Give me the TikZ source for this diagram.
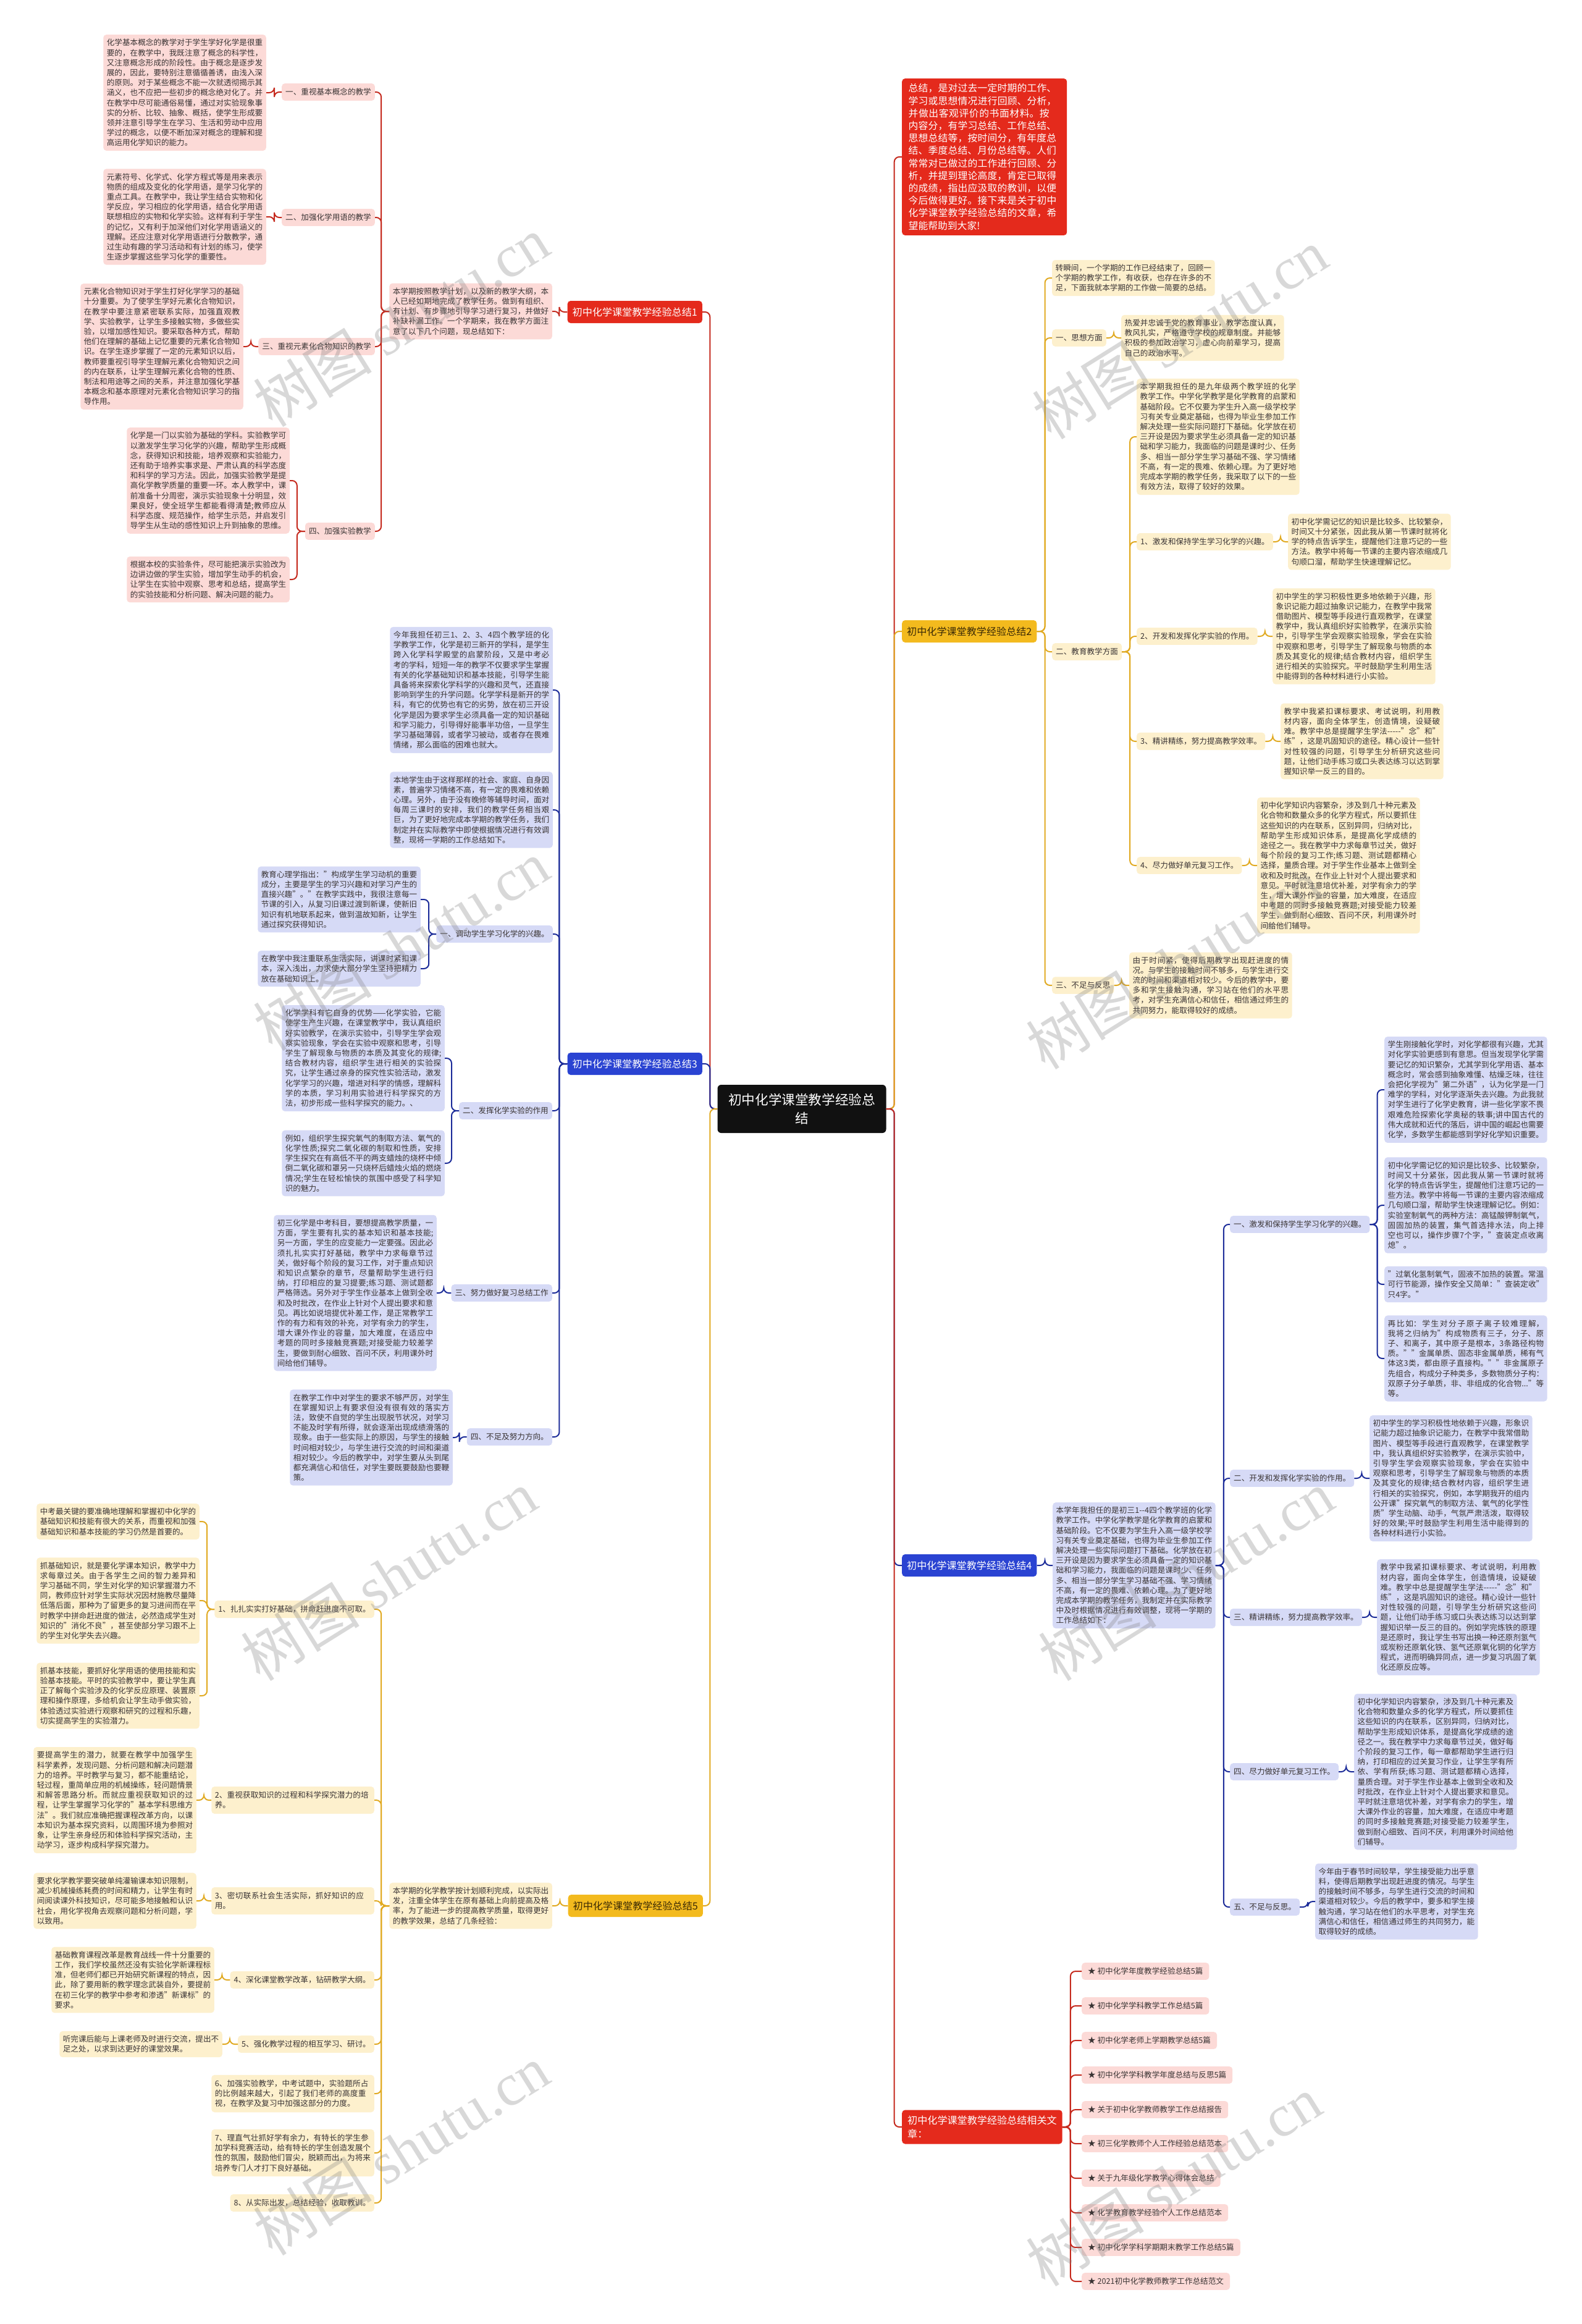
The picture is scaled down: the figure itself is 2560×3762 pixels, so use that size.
\documentclass[tikz,border=0pt]{standalone}
\usepackage{fontspec}
\setmainfont{Noto Sans CJK SC}
\newfontfamily\wmserif{Liberation Serif}
\XeTeXlinebreaklocale "zh"
\XeTeXlinebreakskip = 0pt plus 1pt

\definecolor{rootblack}{HTML}{111111}
\definecolor{titlered}{HTML}{E42A1C}
\definecolor{linered}{HTML}{C52A1E}
\definecolor{pinkfill}{HTML}{FCDAD7}
\definecolor{titleblue}{HTML}{2A43D2}
\definecolor{lineblue}{HTML}{1C2C99}
\definecolor{lavfill}{HTML}{D6DAF6}
\definecolor{titlegold}{HTML}{F3BA1E}
\definecolor{linegold}{HTML}{E1AA22}
\definecolor{creamfill}{HTML}{FDF0CD}
\definecolor{boxink}{HTML}{3A3434}
\definecolor{goldink}{HTML}{3B2A05}

\newcommand{\bodyfont}{\fontsize{12.6}{16.2}\selectfont}
\newcommand{\titlefont}{\fontsize{16.1}{22}\selectfont}
\newcommand{\introfont}{\fontsize{15.8}{20.2}\selectfont}
\newcommand{\rootfont}{\fontsize{21.6}{30}\selectfont}

\tikzset{
  rootnode/.style={fill=rootblack, text=white, rounded corners=6pt, font=\rootfont,
    align=center, minimum width=273pt, minimum height=78pt, inner sep=0pt},
  anytitle/.style={rounded corners=5pt, font=\titlefont, inner xsep=8pt, minimum height=36pt},
  redtitle/.style={anytitle, fill=titlered, text=white},
  bluetitle/.style={anytitle, fill=titleblue, text=white},
  goldtitle/.style={anytitle, fill=titlegold, text=goldink},
  anybox/.style={rounded corners=5pt, font=\bodyfont, text=boxink, text width=252.5pt,
    align=justify, inner xsep=5.5pt, inner ysep=7pt},
  anylabel/.style={rounded corners=5pt, font=\bodyfont, text=boxink, inner xsep=6pt, inner ysep=8pt},
  pinkbox/.style={anybox, fill=pinkfill},
  pinklabel/.style={anylabel, fill=pinkfill},
  lavbox/.style={anybox, fill=lavfill},
  lavlabel/.style={anylabel, fill=lavfill},
  creambox/.style={anybox, fill=creamfill},
  creamlabel/.style={anylabel, fill=creamfill},
  longlabel/.style={text width=252.5pt, align=left, inner xsep=5.5pt},
  leafnote/.style={anylabel, fill=pinkfill, inner xsep=10pt},
  anyline/.style={line width=2pt, rounded corners=8pt},
  redline/.style={anyline, draw=linered},
  blueline/.style={anyline, draw=lineblue},
  goldline/.style={anyline, draw=linegold},
  watermark/.style={text=gray, opacity=0.3, font=\fontsize{96}{96}\selectfont, rotate=32}
}

\begin{document}
\begin{tikzpicture}[x=1pt,y=-1pt]
  \fill[white] (0,0) rectangle (2560,3762);
  \useasboundingbox (0,0) rectangle (2560,3762);

  % centre
  \node[rootnode] (root) at (1298,1795) {初中化学课堂教学经验总\\结};

  % branch 1, left top
  \node[redtitle, anchor=east] (t1) at (1137,505) {初中化学课堂教学经验总结1};
  \node[pinkbox, anchor=east] (i1) at (894,504) {本学期按照教学计划，以及新的教学大纲，本人已经如期地完成了教学任务。做到有组织、有计划、有步骤地引导学习进行复习，并做好补缺补漏工作。一个学期来，我在教学方面注意了以下几个问题，现总结如下：};
  \node[pinklabel, anchor=east] (l11) at (607,149) {一、重视基本概念的教学};
  \node[pinklabel, anchor=east] (l12) at (607,352) {二、加强化学用语的教学};
  \node[pinklabel, anchor=east] (l13) at (607,561) {三、重视元素化合物知识的教学};
  \node[pinklabel, anchor=east] (l14) at (607,860) {四、加强实验教学};
  \node[pinkbox, anchor=east] (b11) at (431,150) {化学基本概念的教学对于学生学好化学是很重要的，在教学中，我既注意了概念的科学性，又注意概念形成的阶段性。由于概念是逐步发展的，因此，要特别注意循循善诱，由浅入深的原则。对于某些概念不能一次就透彻揭示其涵义，也不应把一些初步的概念绝对化了。并在教学中尽可能通俗易懂，通过对实验现象事实的分析、比较、抽象、概括，使学生形成要领并注意引导学生在学习、生活和劳动中应用学过的概念，以便不断加深对概念的理解和提高运用化学知识的能力。};
  \node[pinkbox, anchor=east] (b12) at (431,351) {元素符号、化学式、化学方程式等是用来表示物质的组成及变化的化学用语，是学习化学的重点工具。在教学中，我让学生结合实物和化学反应，学习相应的化学用语，结合化学用语联想相应的实物和化学实验。这样有利于学生的记忆，又有利于加深他们对化学用语涵义的理解。还应注意对化学用语进行分散教学，通过生动有趣的学习活动和有计划的练习，使学生逐步掌握这些学习化学的重要性。};
  \node[pinkbox, anchor=east] (b13) at (394,561) {元素化合物知识对于学生打好化学学习的基础十分重要。为了使学生学好元素化合物知识，在教学中要注意紧密联系实际，加强直观教学、实验教学，让学生多接触实物，多做些实验，以增加感性知识。要采取各种方式，帮助他们在理解的基础上记忆重要的元素化合物知识。在学生逐步掌握了一定的元素知识以后，教师要重视引导学生理解元素化合物知识之间的内在联系，让学生理解元素化合物的性质、制法和用途等之间的关系，并注意加强化学基本概念和基本原理对元素化合物知识学习的指导作用。};
  \node[pinkbox, anchor=east] (b14a) at (469,778) {化学是一门以实验为基础的学科。实验教学可以激发学生学习化学的兴趣，帮助学生形成概念，获得知识和技能，培养观察和实验能力，还有助于培养实事求是、严肃认真的科学态度和科学的学习方法。因此，加强实验教学是提高化学教学质量的重要一环。本人教学中，课前准备十分周密，演示实验现象十分明显，效果良好，使全班学生都能看得清楚;教师应从科学态度、规范操作，给学生示范，并启发引导学生从生动的感性知识上升到抽象的思维。};
  \node[pinkbox, anchor=east] (b14b) at (469,938) {根据本校的实验条件，尽可能把演示实验改为边讲边做的学生实验，增加学生动手的机会，让学生在实验中观察、思考和总结，提高学生的实验技能和分析问题、解决问题的能力。};

  % branch 3, left middle
  \node[bluetitle, anchor=east] (t3) at (1137,1722) {初中化学课堂教学经验总结3};
  \node[lavbox, anchor=east] (i3a) at (895,1117) {今年我担任初三1、2、3、4四个教学班的化学教学工作，化学是初三新开的学科，是学生跨入化学科学殿堂的启蒙阶段，又是中考必考的学科，短短一年的教学不仅要求学生掌握有关的化学基础知识和基本技能，引导学生能具备将来探索化学科学的兴趣和灵气，还直接影响到学生的升学问题。化学学科是新开的学科，有它的优势也有它的劣势，放在初三开设化学是因为要求学生必须具备一定的知识基础和学习能力，引导得好能事半功倍，一旦学生学习基础薄弱，或者学习被动，或者存在畏难情绪，那么面临的困难也就大。};
  \node[lavbox, anchor=east] (i3b) at (895,1311) {本地学生由于这样那样的社会、家庭、自身因素，普遍学习情绪不高，有一定的畏难和依赖心理。另外，由于没有晚修等辅导时间，面对每周三课时的安排，我们的教学任务相当艰巨，为了更好地完成本学期的教学任务，我们制定并在实际教学中即使根据情况进行有效调整，现将一学期的工作总结如下。};
  \node[lavlabel, anchor=east] (l31) at (895,1512) {一、调动学生学习化学的兴趣。};
  \node[lavlabel, anchor=east] (l32) at (894,1798) {二、发挥化学实验的作用};
  \node[lavlabel, anchor=east] (l33) at (894,2093) {三、努力做好复习总结工作};
  \node[lavlabel, anchor=east] (l34) at (894,2326) {四、不足及努力方向。};
  \node[lavbox, anchor=east] (b31a) at (681,1456) {教育心理学指出："构成学生学习动机的重要成分，主要是学生的学习兴趣和对学习产生的直接兴趣"。"在教学实践中，我很注意每一节课的引入，从复习旧课过渡到新课，使新旧知识有机地联系起来，做到温故知新，让学生通过探究获得知识。};
  \node[lavbox, anchor=east] (b31b) at (681,1568) {在教学中我注重联系生活实际，讲课时紧扣课本，深入浅出，力求使大部分学生坚持把精力放在基础知识上。};
  \node[lavbox, anchor=east] (b32a) at (720,1713) {化学学科有它自身的优势——化学实验，它能使学生产生兴趣，在课堂教学中，我认真组织好实验教学，在演示实验中，引导学生学会观察实验现象，学会在实验中观察和思考，引导学生了解现象与物质的本质及其变化的规律;结合教材内容，组织学生进行相关的实验探究，让学生通过亲身的探究性实验活动，激发化学学习的兴趣，增进对科学的情感，理解科学的本质，学习利用实验进行科学探究的方法，初步形成一些科学探究的能力。、};
  \node[lavbox, anchor=east] (b32b) at (720,1883) {例如，组织学生探究氧气的制取方法、氧气的化学性质;探究二氧化碳的制取和性质，安排学生探究在有高低不平的两支蜡烛的烧杯中倾倒二氧化碳和罩另一只烧杯后蜡烛火焰的燃烧情况;学生在轻松愉快的氛围中感受了科学知识的魅力。};
  \node[lavbox, anchor=east] (b33) at (707,2093) {初三化学是中考科目，要想提高教学质量，一方面，学生要有扎实的基本知识和基本技能;另一方面，学生的应变能力一定要强。因此必须扎扎实实打好基础，教学中力求每章节过关，做好每个阶段的复习工作，对于重点知识和知识点繁杂的章节，尽量帮助学生进行归纳，打印相应的复习提要;练习题、测试题都严格筛选。另外对于学生作业基本上做到全收和及时批改，在作业上针对个人提出要求和意见。再比如说培提优补差工作，是正常教学工作的有力和有效的补充，对学有余力的学生，增大课外作业的容量，加大难度，在适应中考题的同时多接触竞赛题;对接受能力较差学生，要做到耐心细致、百问不厌，利用课外时间给他们辅导。};
  \node[lavbox, anchor=east] (b34) at (733,2327) {在教学工作中对学生的要求不够严厉，对学生在掌握知识上有要求但没有很有效的落实方法，致使不自觉的学生出现脱节状况，对学习不能及时学有所得，就会逐渐出现成绩滑落的现象。由于一些实际上的原因，与学生的接触时间相对较少，与学生进行交流的时间和渠道相对较少。今后的教学中，对学生要从头到尾都充满信心和信任，对学生要既要鼓励也要鞭策。};

  % branch 5, left bottom
  \node[goldtitle, anchor=east] (t5) at (1138,3085) {初中化学课堂教学经验总结5};
  \node[creambox, anchor=east] (i5) at (894,3085) {本学期的化学教学按计划顺利完成，以实际出发，注重全体学生在原有基础上向前提高及格率，为了能进一步的提高教学质量，取得更好的教学效果，总结了几条经验：};
  \node[creamlabel, anchor=east] (l51) at (606,2605) {1、扎扎实实打好基础，拼命赶进度不可取。};
  \node[creamlabel, longlabel, anchor=east] (l52) at (606,2914) {2、重视获取知识的过程和科学探究潜力的培养。};
  \node[creamlabel, longlabel, anchor=east] (l53) at (606,3077) {3、密切联系社会生活实际，抓好知识的应用。};
  \node[creamlabel, anchor=east] (l54) at (606,3205) {4、深化课堂教学改革，钻研教学大纲。};
  \node[creamlabel, anchor=east] (l55) at (606,3309) {5、强化教学过程的相互学习、研讨。};
  \node[creamlabel, longlabel, anchor=east] (l56) at (606,3389) {6、加强实验教学，中考试题中，实验题所占的比例越来越大，引起了我们老师的高度重视，在教学及复习中加强这部分的力度。};
  \node[creamlabel, longlabel, anchor=east] (l57) at (606,3485) {7、理直气壮抓好学有余力，有特长的学生参加学科竞赛活动，给有特长的学生创造发展个性的氛围，鼓励他们冒尖，脱颖而出，为将来培养专门人才打下良好基础。};
  \node[creamlabel, anchor=east] (l58) at (606,3566) {8、从实际出发，总结经验，收取教训。};
  \node[creambox, anchor=east] (b51a) at (323,2463) {中考最关键的要准确地理解和掌握初中化学的基础知识和技能有很大的关系，而重视和加强基础知识和基本技能的学习仍然是首要的。};
  \node[creambox, anchor=east] (b51b) at (323,2591) {抓基础知识，就是要化学课本知识，教学中力求每章过关。由于各学生之间的智力差异和学习基础不同，学生对化学的知识掌握潜力不同，教师应针对学生实际状况因材施教尽量降低落后面，那种为了留更多的复习进间而在平时教学中拼命赶进度的做法，必然造成学生对知识的"消化不良"，甚至使部分学习跟不上的学生对化学失去兴趣。};
  \node[creambox, anchor=east] (b51c) at (323,2745) {抓基本技能，要抓好化学用语的使用技能和实验基本技能。平时的实验教学中，要让学生真正了解每个实验涉及的化学反应原理、装置原理和操作原理，多给机会让学生动手做实验，体验透过实验进行观察和研究的过程和乐趣，切实提高学生的实验潜力。};
  \node[creambox, anchor=east] (b52) at (318,2914) {要提高学生的潜力，就要在教学中加强学生科学素养，发现问题、分析问题和解决问题潜力的培养。平时教学与复习，都不能重结论，轻过程，重简单应用的机械操练，轻问题情景和解答思路分析。而就应重视获取知识的过程，让学生掌握学习化学的"基本学科思维方法"。我们就应准确把握课程改革方向，以课本知识为基本探究资料，以周围环境为参照对象，让学生亲身经历和体验科学探究活动，主动学习，逐步构成科学探究潜力。};
  \node[creambox, anchor=east] (b53) at (318,3077) {要求化学教学要突破单纯灌输课本知识限制，减少机械操练耗费的时间和精力，让学生有时间阅读课外科技知识，尽可能多地接触和认识社会，用化学视角去观察问题和分析问题，学以致用。};
  \node[creambox, anchor=east] (b54) at (347,3205) {基础教育课程改革是教育战线一件十分重要的工作，我们学校虽然还没有实验化学新课程标准，但老师们都已开始研究新课程的特点，因此，除了要用新的教学理念武装自外，要提前在初三化学的教学中参考和渗透"新课标"的要求。};
  \node[creambox, anchor=east] (b55) at (360,3309) {听完课后能与上课老师及时进行交流，提出不足之处，以求到达更好的课堂效果。};

  % intro, right top
  \node[fill=titlered, text=white, rounded corners=5pt, font=\introfont, text width=246pt,
    align=left, inner xsep=10.5pt, inner ysep=8.5pt, anchor=west] (ir) at (1460,254) {总结，是对过去一定时期的工作、学习或思想情况进行回顾、分析，并做出客观评价的书面材料。按内容分，有学习总结、工作总结、思想总结等，按时间分，有年度总结、季度总结、月份总结等。人们常常对已做过的工作进行回顾、分析，并提到理论高度，肯定已取得的成绩，指出应汲取的教训，以便今后做得更好。接下来是关于初中化学课堂教学经验总结的文章，希望能帮助到大家!};

  % branch 2, right top
  \node[goldtitle, anchor=west] (t2) at (1460,1022) {初中化学课堂教学经验总结2};
  \node[creambox, anchor=west] (i2) at (1703,450) {转瞬间，一个学期的工作已经结束了，回顾一个学期的教学工作，有收获，也存在许多的不足，下面我就本学期的工作做一简要的总结。};
  \node[creamlabel, anchor=west] (l21) at (1703,547) {一、思想方面};
  \node[creambox, anchor=west] (b21) at (1815,547) {热爱并忠诚于党的教育事业，教学态度认真，教风扎实，严格遵守学校的规章制度。并能够积极的参加政治学习，虚心向前辈学习，提高自己的政治水平。};
  \node[creamlabel, anchor=west] (l22) at (1703,1055) {二、教育教学方面};
  \node[creambox, anchor=west] (b22i) at (1840,707) {本学期我担任的是九年级两个教学班的化学教学工作。中学化学教学是化学教育的启蒙和基础阶段。它不仅要为学生升入高一级学校学习有关专业奠定基础，也得为毕业生参加工作解决处理一些实际问题打下基础。化学放在初三开设是因为要求学生必须具备一定的知识基础和学习能力，我面临的问题是课时少、任务多、相当一部分学生学习基础不强、学习情绪不高，有一定的畏难、依赖心理。为了更好地完成本学期的教学任务，我采取了以下的一些有效方法，取得了较好的效果。};
  \node[creamlabel, anchor=west] (l221) at (1840,877) {1、激发和保持学生学习化学的兴趣。};
  \node[creambox, anchor=west] (b221) at (2085,877) {初中化学需记忆的知识是比较多、比较繁杂，时间又十分紧张，因此我从第一节课时就将化学的特点告诉学生，提醒他们注意巧记的一些方法。教学中将每一节课的主要内容浓缩成几句顺口溜，帮助学生快速理解记忆。};
  \node[creamlabel, anchor=west] (l222) at (1840,1030) {2、开发和发挥化学实验的作用。};
  \node[creambox, anchor=west] (b222) at (2060,1030) {初中学生的学习积极性更多地依赖于兴趣，形象识记能力超过抽象识记能力，在教学中我常借助图片、模型等手段进行直观教学，在课堂教学中，我认真组织好实验教学，在演示实验中，引导学生学会观察实验现象，学会在实验中观察和思考，引导学生了解现象与物质的本质及其变化的规律;结合教材内容，组织学生进行相关的实验探究。平时鼓励学生利用生活中能得到的各种材料进行小实验。};
  \node[creamlabel, anchor=west] (l223) at (1840,1200) {3、精讲精练，努力提高教学效率。};
  \node[creambox, anchor=west] (b223) at (2073,1200) {教学中我紧扣课标要求、考试说明，利用教材内容，面向全体学生，创造情境，设疑破难。教学中总是提醒学生学法-{}-{}-{}-{}-"念"和"练"，这是巩固知识的途径。精心设计一些针对性较强的问题，引导学生分析研究这些问题，让他们动手练习或口头表达练习以达到掌握知识举一反三的目的。};
  \node[creamlabel, anchor=west] (l224) at (1840,1401) {4、尽力做好单元复习工作。};
  \node[creambox, anchor=west] (b224) at (2035,1401) {初中化学知识内容繁杂，涉及到几十种元素及化合物和数量众多的化学方程式，所以要抓住这些知识的内在联系，区别异同，归纳对比，帮助学生形成知识体系，是提高化学成绩的途径之一。我在教学中力求每章节过关，做好每个阶段的复习工作;练习题、测试题都精心选择，量质合理。对于学生作业基本上做到全收和及时批改，在作业上针对个人提出要求和意见。平时就注意培优补差，对学有余力的学生，增大课外作业的容量，加大难度，在适应中考题的同时多接触竞赛题;对接受能力较差学生，做到耐心细致、百问不厌，利用课外时间给他们辅导。};
  \node[creamlabel, anchor=west] (l23) at (1703,1595) {三、不足与反思};
  \node[creambox, anchor=west] (b23) at (1828,1595) {由于时间紧，使得后期教学出现赶进度的情况。与学生的接触时间不够多，与学生进行交流的时间和渠道相对较少。今后的教学中，要多和学生接触沟通，学习站在他们的水平思考，对学生充满信心和信任，相信通过师生的共同努力，能取得较好的成绩。};

  % branch 4, right middle
  \node[bluetitle, anchor=west] (t4) at (1460,2534) {初中化学课堂教学经验总结4};
  \node[lavbox, anchor=west] (i4) at (1704,2534) {本学年我担任的是初三1-{}-4四个教学班的化学教学工作。中学化学教学是化学教育的启蒙和基础阶段。它不仅要为学生升入高一级学校学习有关专业奠定基础，也得为毕业生参加工作解决处理一些实际问题打下基础。化学放在初三开设是因为要求学生必须具备一定的知识基础和学习能力，我面临的问题是课时少、任务多、相当一部分学生学习基础不强、学习情绪不高，有一定的畏难、依赖心理。为了更好地完成本学期的教学任务，我制定并在实际教学中及时根据情况进行有效调整，现将一学期的工作总结如下：};
  \node[lavlabel, anchor=west] (l41) at (1991,1982) {一、激发和保持学生学习化学的兴趣。};
  \node[lavbox, anchor=west] (b41a) at (2241,1764) {学生刚接触化学时，对化学都很有兴趣，尤其对化学实验更感到有意思。但当发现学化学需要记忆的知识繁杂，尤其学到化学用语、基本概念时，常会感到抽象难懂、枯燥乏味，往往会把化学视为"第二外语"，认为化学是一门难学的学科，对化学逐渐失去兴趣。为此我就对学生进行了化学史教育，讲一些化学家不畏艰难危险探索化学奥秘的轶事;讲中国古代的伟大成就和近代的落后，讲中国的崛起也需要化学，多数学生都能感到学好化学知识重要。};
  \node[lavbox, anchor=west] (b41b) at (2241,1951) {初中化学需记忆的知识是比较多、比较繁杂，时间又十分紧张，因此我从第一节课时就将化学的特点告诉学生，提醒他们注意巧记的一些方法。教学中将每一节课的主要内容浓缩成几句顺口溜，帮助学生快速理解记忆。例如：实验室制氧气的两种方法：高锰酸钾制氧气，固固加热的装置，集气首选排水法，向上排空也可以，操作步骤7个字，"查装定点收离熄"。};
  \node[lavbox, anchor=west] (b41c) at (2241,2079) {"过氧化氢制氧气，固液不加热的装置。常温可行节能源，操作安全又简单："查装定收"只4字。"};
  \node[lavbox, anchor=west] (b41d) at (2241,2199) {再比如：学生对分子原子离子较难理解，我将之归纳为"构成物质有三子，分子、原子、和离子，其中原子是根本，3条路径构物质。""金属单质、固态非金属单质，稀有气体这3类，都由原子直接构。""非金属原子先组合，构成分子种类多，多数物质分子构：双原子分子单质，非、非组成的化合物..."等等。};
  \node[lavlabel, anchor=west] (l42) at (1991,2393) {二、开发和发挥化学实验的作用。};
  \node[lavbox, anchor=west] (b42) at (2217,2393) {初中学生的学习积极性地依赖于兴趣，形象识记能力超过抽象识记能力，在教学中我常借助图片、模型等手段进行直观教学，在课堂教学中，我认真组织好实验教学，在演示实验中，引导学生学会观察实验现象，学会在实验中观察和思考，引导学生了解现象与物质的本质及其变化的规律;结合教材内容，组织学生进行相关的实验探究，例如，本学期我开的组内公开课"探究氧气的制取方法、氧气的化学性质"学生动脑、动手，气氛严肃活泼，取得较好的效果;平时鼓励学生利用生活中能得到的各种材料进行小实验。};
  \node[lavlabel, anchor=west] (l43) at (1991,2618) {三、精讲精练，努力提高教学效率。};
  \node[lavbox, anchor=west] (b43) at (2229,2618) {教学中我紧扣课标要求、考试说明，利用教材内容，面向全体学生，创造情境，设疑破难。教学中总是提醒学生学法-{}-{}-{}-{}-"念"和"练"，这是巩固知识的途径。精心设计一些针对性较强的问题，引导学生分析研究这些问题，让他们动手练习或口头表达练习以达到掌握知识举一反三的目的。例如学完炼铁的原理是还原时，我让学生书写出换一种还原剂氢气或炭粉还原氧化铁、氢气还原氧化铜的化学方程式，进而明确异同点，进一步复习巩固了氧化还原反应等。};
  \node[lavlabel, anchor=west] (l44) at (1991,2868) {四、尽力做好单元复习工作。};
  \node[lavbox, anchor=west] (b44) at (2192,2868) {初中化学知识内容繁杂，涉及到几十种元素及化合物和数量众多的化学方程式，所以要抓住这些知识的内在联系，区别异同，归纳对比，帮助学生形成知识体系，是提高化学成绩的途径之一。我在教学中力求每章节过关，做好每个阶段的复习工作，每一章都帮助学生进行归纳，打印相应的过关复习作业，让学生学有所依、学有所获;练习题、测试题都精心选择，量质合理。对于学生作业基本上做到全收和及时批改，在作业上针对个人提出要求和意见。平时就注意培优补差，对学有余力的学生，增大课外作业的容量，加大难度，在适应中考题的同时多接触竞赛题;对接受能力较差学生，做到耐心细致、百问不厌，利用课外时间给他们辅导。};
  \node[lavlabel, anchor=west] (l45) at (1991,3087) {五、不足与反思。};
  \node[lavbox, anchor=west] (b45) at (2129,3078) {今年由于春节时间较早，学生接受能力出乎意料，使得后期教学出现赶进度的情况。与学生的接触时间不够多，与学生进行交流的时间和渠道相对较少。今后的教学中，要多和学生接触沟通，学习站在他们的水平思考，对学生充满信心和信任，相信通过师生的共同努力，能取得较好的成绩。};

  % branch 6, right bottom
  \node[redtitle, anchor=west, align=left, inner ysep=9pt, inner xsep=9pt] (t6) at (1460,3443) {初中化学课堂教学经验总结相关文\\章：};
  \node[leafnote, anchor=west] (rel1) at (1751,3191) {★ 初中化学年度教学经验总结5篇};
  \node[leafnote, anchor=west] (rel2) at (1751,3247) {★ 初中化学学科教学工作总结5篇};
  \node[leafnote, anchor=west] (rel3) at (1751,3303) {★ 初中化学老师上学期教学总结5篇};
  \node[leafnote, anchor=west] (rel4) at (1751,3359) {★ 初中化学学科教学年度总结与反思5篇};
  \node[leafnote, anchor=west] (rel5) at (1751,3415) {★ 关于初中化学教师教学工作总结报告};
  \node[leafnote, anchor=west] (rel6) at (1751,3470) {★ 初三化学教师个人工作经验总结范本};
  \node[leafnote, anchor=west] (rel7) at (1751,3526) {★ 关于九年级化学教学心得体会总结};
  \node[leafnote, anchor=west] (rel8) at (1751,3582) {★ 化学教育教学经验个人工作总结范本};
  \node[leafnote, anchor=west] (rel9) at (1751,3638) {★ 初中化学学科学期期末教学工作总结5篇};
  \node[leafnote, anchor=west] (rel10) at (1751,3693) {★ 2021初中化学教师教学工作总结范文};

  % connectors, left side
  \draw[redline] (root.west) -- ++(-12,0) |- (t1.east);
  \draw[blueline] (root.west) -- ++(-12,0) |- (t3.east);
  \draw[goldline] (root.west) -- ++(-12,0) |- (t5.east);
  \draw[redline] (t1.west) -- ++(-13,0) |- (i1.east);
  \foreach \n in {l11,l12,l13,l14}
    \draw[redline] (i1.west) -- ++(-13,0) |- (\n.east);
  \draw[redline] (l11.west) -- ++(-12,0) |- (b11.east);
  \draw[redline] (l12.west) -- ++(-12,0) |- (b12.east);
  \draw[redline] (l13.west) -- ++(-12,0) |- (b13.east);
  \draw[redline] (l14.west) -- ++(-13,0) |- (b14a.east);
  \draw[redline] (l14.west) -- ++(-13,0) |- (b14b.east);
  \foreach \n in {i3a,i3b,l31,l32,l33,l34}
    \draw[blueline] (t3.west) -- ++(-13,0) |- (\n.east);
  \draw[blueline] (l31.west) -- ++(-12,0) |- (b31a.east);
  \draw[blueline] (l31.west) -- ++(-12,0) |- (b31b.east);
  \draw[blueline] (l32.west) -- ++(-12,0) |- (b32a.east);
  \draw[blueline] (l32.west) -- ++(-12,0) |- (b32b.east);
  \draw[blueline] (l33.west) -- ++(-12,0) |- (b33.east);
  \draw[blueline] (l34.west) -- ++(-12,0) |- (b34.east);
  \draw[goldline] (t5.west) -- ++(-13,0) |- (i5.east);
  \foreach \n in {l51,l52,l53,l54,l55,l56,l57,l58}
    \draw[goldline] (i5.west) -- ++(-13,0) |- (\n.east);
  \foreach \n in {b51a,b51b,b51c}
    \draw[goldline] (l51.west) -- ++(-12,0) |- (\n.east);
  \draw[goldline] (l52.west) -- ++(-12,0) |- (b52.east);
  \draw[goldline] (l53.west) -- ++(-12,0) |- (b53.east);
  \draw[goldline] (l54.west) -- ++(-13,0) |- (b54.east);
  \draw[goldline] (l55.west) -- ++(-13,0) |- (b55.east);

  % connectors, right side
  \draw[redline] (root.east) -- ++(13,0) |- (ir.west);
  \draw[goldline] (root.east) -- ++(13,0) |- (t2.west);
  \draw[blueline] (root.east) -- ++(13,0) |- (t4.west);
  \draw[redline] (root.east) -- ++(13,0) |- (t6.west);
  \foreach \n in {i2,l21,l22,l23}
    \draw[goldline] (t2.east) -- ++(13,0) |- (\n.west);
  \draw[goldline] (l21.east) -- ++(12,0) |- (b21.west);
  \foreach \n in {b22i,l221,l222,l223,l224}
    \draw[goldline] (l22.east) -- ++(13,0) |- (\n.west);
  \draw[goldline] (l221.east) -- ++(12,0) |- (b221.west);
  \draw[goldline] (l222.east) -- ++(12,0) |- (b222.west);
  \draw[goldline] (l223.east) -- ++(12,0) |- (b223.west);
  \draw[goldline] (l224.east) -- ++(12,0) |- (b224.west);
  \draw[goldline] (l23.east) -- ++(12,0) |- (b23.west);
  \draw[blueline] (t4.east) -- ++(13,0) |- (i4.west);
  \foreach \n in {l41,l42,l43,l44,l45}
    \draw[blueline] (i4.east) -- ++(13,0) |- (\n.west);
  \foreach \n in {b41a,b41b,b41c,b41d}
    \draw[blueline] (l41.east) -- ++(12,0) |- (\n.west);
  \draw[blueline] (l42.east) -- ++(12,0) |- (b42.west);
  \draw[blueline] (l43.east) -- ++(12,0) |- (b43.west);
  \draw[blueline] (l44.east) -- ++(12,0) |- (b44.west);
  \draw[blueline] (l45.east) -- ++(13,0) |- (b45.west);
  \foreach \i in {1,...,10}
    \draw[redline] (t6.east) -- ++(13,0) |- (rel\i.west);

  % watermarks
  \node[watermark] (wm1) at (650,520) {树图 {\wmserif shutu.cn}};
  \node[watermark] (wm2) at (650,1530) {树图 {\wmserif shutu.cn}};
  \node[watermark] (wm3) at (630,2550) {树图 {\wmserif shutu.cn}};
  \node[watermark] (wm4) at (650,3480) {树图 {\wmserif shutu.cn}};
  \node[watermark] (wm5) at (1910,540) {树图 {\wmserif shutu.cn}};
  \node[watermark] (wm6) at (1900,1560) {树图 {\wmserif shutu.cn}};
  \node[watermark] (wm7) at (1920,2550) {树图 {\wmserif shutu.cn}};
  \node[watermark] (wm8) at (1900,3530) {树图 {\wmserif shutu.cn}};
\end{tikzpicture}
\end{document}
